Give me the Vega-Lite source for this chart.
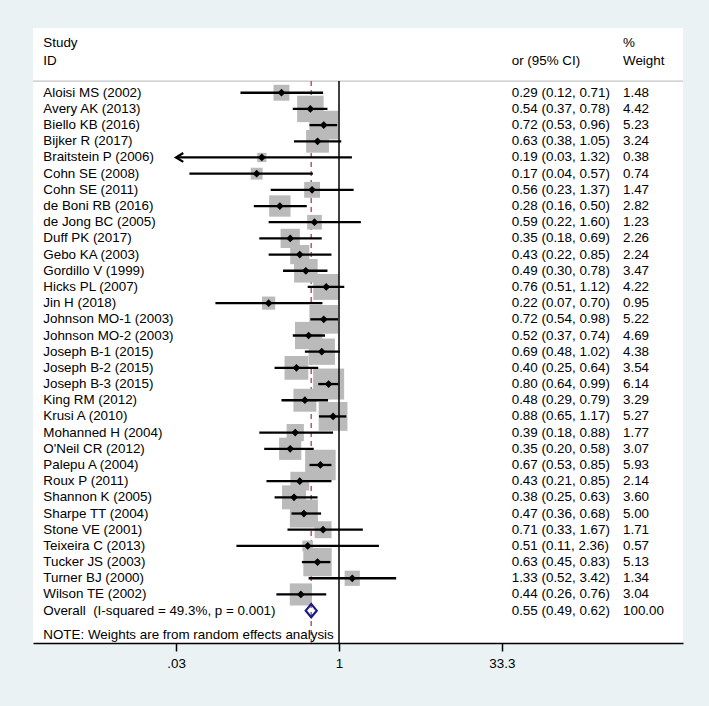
{
  "$schema": "https://vega.github.io/schema/vega-lite/v6.json",
  "width": 650,
  "height": 615,
  "autosize": {"type": "none"},
  "padding": {"left": 33, "top": 28, "right": 26, "bottom": 63},
  "background": "#EAF2F3",
  "datasets": {
    "rows": [
      {"study": "Aloisi MS (2002)", "or": 0.29, "lo": 0.12, "hi": 0.71, "w": 1.48, "ci": "0.29 (0.12, 0.71)", "wt": "1.48", "row": 1, "kind": "study"},
      {"study": "Avery AK (2013)", "or": 0.54, "lo": 0.37, "hi": 0.78, "w": 4.42, "ci": "0.54 (0.37, 0.78)", "wt": "4.42", "row": 2, "kind": "study"},
      {"study": "Biello KB (2016)", "or": 0.72, "lo": 0.53, "hi": 0.96, "w": 5.23, "ci": "0.72 (0.53, 0.96)", "wt": "5.23", "row": 3, "kind": "study"},
      {"study": "Bijker R (2017)", "or": 0.63, "lo": 0.38, "hi": 1.05, "w": 3.24, "ci": "0.63 (0.38, 1.05)", "wt": "3.24", "row": 4, "kind": "study"},
      {"study": "Braitstein P (2006)", "or": 0.19, "lo": 0.03, "hi": 1.32, "w": 0.38, "ci": "0.19 (0.03, 1.32)", "wt": "0.38", "row": 5, "kind": "study", "clipped": true},
      {"study": "Cohn SE (2008)", "or": 0.17, "lo": 0.04, "hi": 0.57, "w": 0.74, "ci": "0.17 (0.04, 0.57)", "wt": "0.74", "row": 6, "kind": "study"},
      {"study": "Cohn SE (2011)", "or": 0.56, "lo": 0.23, "hi": 1.37, "w": 1.47, "ci": "0.56 (0.23, 1.37)", "wt": "1.47", "row": 7, "kind": "study"},
      {"study": "de Boni RB (2016)", "or": 0.28, "lo": 0.16, "hi": 0.50, "w": 2.82, "ci": "0.28 (0.16, 0.50)", "wt": "2.82", "row": 8, "kind": "study"},
      {"study": "de Jong BC (2005)", "or": 0.59, "lo": 0.22, "hi": 1.60, "w": 1.23, "ci": "0.59 (0.22, 1.60)", "wt": "1.23", "row": 9, "kind": "study"},
      {"study": "Duff PK (2017)", "or": 0.35, "lo": 0.18, "hi": 0.69, "w": 2.26, "ci": "0.35 (0.18, 0.69)", "wt": "2.26", "row": 10, "kind": "study"},
      {"study": "Gebo KA (2003)", "or": 0.43, "lo": 0.22, "hi": 0.85, "w": 2.24, "ci": "0.43 (0.22, 0.85)", "wt": "2.24", "row": 11, "kind": "study"},
      {"study": "Gordillo V (1999)", "or": 0.49, "lo": 0.30, "hi": 0.78, "w": 3.47, "ci": "0.49 (0.30, 0.78)", "wt": "3.47", "row": 12, "kind": "study"},
      {"study": "Hicks PL (2007)", "or": 0.76, "lo": 0.51, "hi": 1.12, "w": 4.22, "ci": "0.76 (0.51, 1.12)", "wt": "4.22", "row": 13, "kind": "study"},
      {"study": "Jin H (2018)", "or": 0.22, "lo": 0.07, "hi": 0.70, "w": 0.95, "ci": "0.22 (0.07, 0.70)", "wt": "0.95", "row": 14, "kind": "study"},
      {"study": "Johnson MO-1 (2003)", "or": 0.72, "lo": 0.54, "hi": 0.98, "w": 5.22, "ci": "0.72 (0.54, 0.98)", "wt": "5.22", "row": 15, "kind": "study"},
      {"study": "Johnson MO-2 (2003)", "or": 0.52, "lo": 0.37, "hi": 0.74, "w": 4.69, "ci": "0.52 (0.37, 0.74)", "wt": "4.69", "row": 16, "kind": "study"},
      {"study": "Joseph B-1 (2015)", "or": 0.69, "lo": 0.48, "hi": 1.02, "w": 4.38, "ci": "0.69 (0.48, 1.02)", "wt": "4.38", "row": 17, "kind": "study"},
      {"study": "Joseph B-2 (2015)", "or": 0.40, "lo": 0.25, "hi": 0.64, "w": 3.54, "ci": "0.40 (0.25, 0.64)", "wt": "3.54", "row": 18, "kind": "study"},
      {"study": "Joseph B-3 (2015)", "or": 0.80, "lo": 0.64, "hi": 0.99, "w": 6.14, "ci": "0.80 (0.64, 0.99)", "wt": "6.14", "row": 19, "kind": "study"},
      {"study": "King RM (2012)", "or": 0.48, "lo": 0.29, "hi": 0.79, "w": 3.29, "ci": "0.48 (0.29, 0.79)", "wt": "3.29", "row": 20, "kind": "study"},
      {"study": "Krusi A (2010)", "or": 0.88, "lo": 0.65, "hi": 1.17, "w": 5.27, "ci": "0.88 (0.65, 1.17)", "wt": "5.27", "row": 21, "kind": "study"},
      {"study": "Mohanned H (2004)", "or": 0.39, "lo": 0.18, "hi": 0.88, "w": 1.77, "ci": "0.39 (0.18, 0.88)", "wt": "1.77", "row": 22, "kind": "study"},
      {"study": "O'Neil CR (2012)", "or": 0.35, "lo": 0.20, "hi": 0.58, "w": 3.07, "ci": "0.35 (0.20, 0.58)", "wt": "3.07", "row": 23, "kind": "study"},
      {"study": "Palepu A (2004)", "or": 0.67, "lo": 0.53, "hi": 0.85, "w": 5.93, "ci": "0.67 (0.53, 0.85)", "wt": "5.93", "row": 24, "kind": "study"},
      {"study": "Roux P (2011)", "or": 0.43, "lo": 0.21, "hi": 0.85, "w": 2.14, "ci": "0.43 (0.21, 0.85)", "wt": "2.14", "row": 25, "kind": "study"},
      {"study": "Shannon K (2005)", "or": 0.38, "lo": 0.25, "hi": 0.63, "w": 3.60, "ci": "0.38 (0.25, 0.63)", "wt": "3.60", "row": 26, "kind": "study"},
      {"study": "Sharpe TT (2004)", "or": 0.47, "lo": 0.36, "hi": 0.68, "w": 5.00, "ci": "0.47 (0.36, 0.68)", "wt": "5.00", "row": 27, "kind": "study"},
      {"study": "Stone VE (2001)", "or": 0.71, "lo": 0.33, "hi": 1.67, "w": 1.71, "ci": "0.71 (0.33, 1.67)", "wt": "1.71", "row": 28, "kind": "study"},
      {"study": "Teixeira C (2013)", "or": 0.51, "lo": 0.11, "hi": 2.36, "w": 0.57, "ci": "0.51 (0.11, 2.36)", "wt": "0.57", "row": 29, "kind": "study"},
      {"study": "Tucker JS (2003)", "or": 0.63, "lo": 0.45, "hi": 0.83, "w": 5.13, "ci": "0.63 (0.45, 0.83)", "wt": "5.13", "row": 30, "kind": "study"},
      {"study": "Turner BJ (2000)", "or": 1.33, "lo": 0.52, "hi": 3.42, "w": 1.34, "ci": "1.33 (0.52, 3.42)", "wt": "1.34", "row": 31, "kind": "study"},
      {"study": "Wilson TE (2002)", "or": 0.44, "lo": 0.26, "hi": 0.76, "w": 3.04, "ci": "0.44 (0.26, 0.76)", "wt": "3.04", "row": 32, "kind": "study"},
      {"study": "Overall\u00a0 (I-squared = 49.3%, p = 0.001)", "or": 0.55, "lo": 0.49, "hi": 0.62, "w": 100, "ci": "0.55 (0.49, 0.62)", "wt": "100.00", "row": 33, "kind": "overall"}
    ],
    "leftText": [
      {"t": "Study", "row": -2.05},
      {"t": "ID", "row": -0.95},
      {"t": "NOTE: Weights are from random effects analysis", "row": 34.5}
    ],
    "ciHead": [
      {"t": "or (95% CI)", "row": -0.95}
    ],
    "wtHead": [
      {"t": "%", "row": -2.05},
      {"t": "Weight", "row": -0.95}
    ]
  },
  "data": {"name": "rows"},
  "layer": [
    {
      "data": {"values": [{"row": 0.28}]},
      "mark": {"type": "rule", "color": "#c4c4c4", "strokeWidth": 1.2},
      "encoding": {
        "y": {"field": "row", "type": "quantitative", "scale": {"domain": [-3, 35], "reverse": true, "nice": false, "zero": false}, "axis": null}
      }
    },
    {
      "data": {"values": [{"v": 0.55, "y1": 0.28, "y2": 35}]},
      "mark": {"type": "rule", "color": "#b4586c", "strokeWidth": 1.5, "strokeDash": [5, 4]},
      "encoding": {
        "x": {"field": "v", "type": "quantitative", "title": null},
        "y": {"field": "y1", "type": "quantitative"},
        "y2": {"field": "y2"}
      }
    },
    {
      "transform": [{"filter": "datum.kind === 'study'"}],
      "mark": {"type": "point", "shape": "square", "filled": true, "color": "#bababa", "opacity": 1, "strokeWidth": 0},
      "encoding": {
        "x": {"field": "or", "type": "quantitative", "title": null,
          "scale": {"type": "log", "domain": [0.001381, 1640.6], "nice": false},
          "axis": {"title": null, "values": [0.03, 1, 33.3], "labelExpr": "datum.value < 0.1 ? '.03' : datum.value < 2 ? '1' : '33.3'", "grid": false}},
        "y": {"field": "row", "type": "quantitative"},
        "size": {"field": "w", "type": "quantitative", "scale": {"domain": [0, 6.14], "range": [28, 961]}, "legend": null}
      }
    },
    {
      "data": {"values": [{"v": 1, "y1": 0.28, "y2": 35}]},
      "mark": {"type": "rule", "color": "black", "strokeWidth": 1.5},
      "encoding": {
        "x": {"field": "v", "type": "quantitative", "title": null},
        "y": {"field": "y1", "type": "quantitative"},
        "y2": {"field": "y2"}
      }
    },
    {
      "transform": [{"filter": "datum.kind === 'study'"}],
      "mark": {"type": "rule", "color": "black", "strokeWidth": 2.3},
      "encoding": {
        "x": {"field": "lo", "type": "quantitative", "title": null},
        "x2": {"field": "hi"},
        "y": {"field": "row", "type": "quantitative"}
      }
    },
    {
      "transform": [{"filter": "datum.kind === 'study'"}],
      "mark": {"type": "point", "shape": "diamond", "filled": true, "color": "black", "opacity": 1, "size": 60},
      "encoding": {
        "x": {"field": "or", "type": "quantitative", "title": null},
        "y": {"field": "row", "type": "quantitative"}
      }
    },
    {
      "transform": [{"filter": "datum.clipped === true"}],
      "mark": {"type": "point", "shape": "M1.8,-1.1L0,0L1.8,1.1", "filled": false, "stroke": "black", "strokeWidth": 2.3, "opacity": 1, "size": 64},
      "encoding": {
        "x": {"field": "lo", "type": "quantitative", "title": null},
        "y": {"field": "row", "type": "quantitative"}
      }
    },
    {
      "transform": [{"filter": "datum.kind === 'overall'"}],
      "mark": {"type": "point", "shape": "M-1,0L0,-1.2L1,0L0,1.2Z", "filled": false, "stroke": "#1c1c8a", "strokeWidth": 2.2, "opacity": 1, "size": 121},
      "encoding": {
        "x": {"field": "or", "type": "quantitative", "title": null},
        "y": {"field": "row", "type": "quantitative"}
      }
    },
    {
      "mark": {"type": "text", "align": "left", "baseline": "middle", "font": "Liberation Sans", "fontSize": 13.4, "color": "black"},
      "encoding": {
        "x": {"datum": 0.001723, "type": "quantitative"},
        "y": {"field": "row", "type": "quantitative"},
        "text": {"field": "study"}
      }
    },
    {
      "mark": {"type": "text", "align": "left", "baseline": "middle", "font": "Liberation Sans", "fontSize": 13.4, "color": "black"},
      "encoding": {
        "x": {"datum": 41.12, "type": "quantitative"},
        "y": {"field": "row", "type": "quantitative"},
        "text": {"field": "ci"}
      }
    },
    {
      "mark": {"type": "text", "align": "left", "baseline": "middle", "font": "Liberation Sans", "fontSize": 13.4, "color": "black"},
      "encoding": {
        "x": {"datum": 451, "type": "quantitative"},
        "y": {"field": "row", "type": "quantitative"},
        "text": {"field": "wt"}
      }
    },
    {
      "data": {"name": "leftText"},
      "mark": {"type": "text", "align": "left", "baseline": "middle", "font": "Liberation Sans", "fontSize": 13.4, "color": "black"},
      "encoding": {
        "x": {"datum": 0.001723, "type": "quantitative"},
        "y": {"field": "row", "type": "quantitative"},
        "text": {"field": "t"}
      }
    },
    {
      "data": {"name": "ciHead"},
      "mark": {"type": "text", "align": "left", "baseline": "middle", "font": "Liberation Sans", "fontSize": 13.4, "color": "black"},
      "encoding": {
        "x": {"datum": 41.12, "type": "quantitative"},
        "y": {"field": "row", "type": "quantitative"},
        "text": {"field": "t"}
      }
    },
    {
      "data": {"name": "wtHead"},
      "mark": {"type": "text", "align": "left", "baseline": "middle", "font": "Liberation Sans", "fontSize": 13.4, "color": "black"},
      "encoding": {
        "x": {"datum": 451, "type": "quantitative"},
        "y": {"field": "row", "type": "quantitative"},
        "text": {"field": "t"}
      }
    }
  ],
  "config": {
    "view": {"fill": "white", "stroke": null},
    "axis": {
      "domainColor": "black", "domainWidth": 1.5,
      "tickColor": "black", "tickWidth": 1.5, "tickSize": 8,
      "labelFont": "Liberation Sans", "labelFontSize": 13.4, "labelColor": "black",
      "labelPadding": 5, "grid": false
    }
  }
}
